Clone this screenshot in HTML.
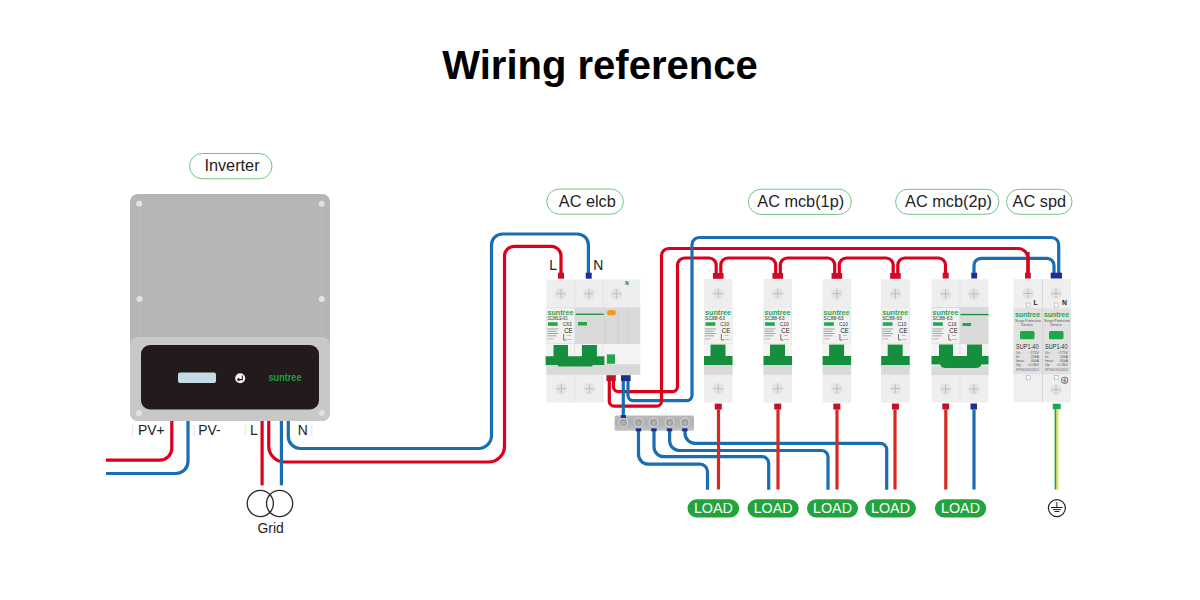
<!DOCTYPE html><html><head><meta charset="utf-8"><style>html,body{margin:0;padding:0;background:#fff;}svg{display:block;font-family:"Liberation Sans",sans-serif;}</style></head><body>
<svg width="1200" height="600" viewBox="0 0 1200 600">
<rect width="1200" height="600" fill="#fff"/>
<text x="600" y="79" font-size="40" font-weight="bold" fill="#000" text-anchor="middle">Wiring reference</text>
<rect x="189.5" y="153.5" width="82.5" height="25.3" rx="12.65" fill="#fff" stroke="#72c486" stroke-width="1"/>
<text x="232" y="171.1" font-size="16.3" fill="#1e1e1e" text-anchor="middle">Inverter</text>
<rect x="546.8" y="189" width="76.6" height="25.2" rx="12.6" fill="#fff" stroke="#72c486" stroke-width="1"/>
<text x="587.3" y="206.6" font-size="16.3" fill="#1e1e1e" text-anchor="middle">AC elcb</text>
<rect x="748.4" y="189.2" width="103" height="25.2" rx="12.6" fill="#fff" stroke="#72c486" stroke-width="1"/>
<text x="800.7" y="206.79999999999998" font-size="16.3" fill="#1e1e1e" text-anchor="middle">AC mcb(1p)</text>
<rect x="895.6" y="189.3" width="103.3" height="25" rx="12.5" fill="#fff" stroke="#72c486" stroke-width="1"/>
<text x="948.5" y="206.9" font-size="16.3" fill="#1e1e1e" text-anchor="middle">AC mcb(2p)</text>
<rect x="1006.5" y="189.3" width="65.5" height="25" rx="12.5" fill="#fff" stroke="#72c486" stroke-width="1"/>
<text x="1039.3" y="206.9" font-size="16.3" fill="#1e1e1e" text-anchor="middle">AC spd</text>
<rect x="130" y="194" width="200" height="227" rx="8" fill="#b5b6b6"/>
<rect x="138.5" y="208" width="1" height="128" fill="#bcbdbd"/>
<rect x="321.5" y="208" width="1" height="128" fill="#bcbdbd"/>
<rect x="130" y="337" width="200" height="84" rx="8" fill="#c8c8c8"/>
<rect x="141" y="345" width="178" height="64.5" rx="9" fill="#231a1b"/>
<rect x="178" y="372.5" width="38" height="10.5" rx="2" fill="#c5dbe6"/>
<circle cx="240.2" cy="378.3" r="5" fill="#fafafa"/>
<path d="M242.3,375.6V379.6H237.8M239.3,378.1L237.6,379.6L239.3,381.1" stroke="#231a1b" stroke-width="1.1" fill="none"/>
<text x="268.5" y="381" font-size="10.5" font-weight="bold" fill="#1c9c4a" textLength="33" lengthAdjust="spacingAndGlyphs">suntree</text>
<circle cx="139.2" cy="203.8" r="3" fill="#e3e3e3"/>
<circle cx="321.7" cy="203.8" r="3" fill="#e3e3e3"/>
<circle cx="139.5" cy="299" r="3" fill="#e3e3e3"/>
<circle cx="321.7" cy="299" r="3" fill="#e3e3e3"/>
<circle cx="139" cy="413" r="3" fill="#e3e3e3"/>
<circle cx="321.9" cy="413" r="3" fill="#e3e3e3"/>
<rect x="131.9" y="425" width="1" height="11" fill="#e4e4e4"/>
<rect x="193.6" y="425" width="1" height="11" fill="#e4e4e4"/>
<rect x="244.8" y="425" width="1" height="11" fill="#e4e4e4"/>
<rect x="311.3" y="425" width="1" height="11" fill="#e4e4e4"/>
<text x="138" y="435" font-size="13.9" fill="#222">PV+</text>
<text x="198.3" y="435" font-size="13.9" fill="#222">PV-</text>
<text x="250" y="435" font-size="13.9" fill="#222">L</text>
<text x="297.8" y="435" font-size="13.9" fill="#222">N</text>
<path d="M171.8,421V448.2A12,12 0 0 1 159.8,460.2H106" stroke="#db001b" stroke-width="3.2" fill="none"/>
<path d="M188,421V461.5A12,12 0 0 1 176,473.5H106" stroke="#1b6db2" stroke-width="3.2" fill="none"/>
<path d="M268.75,421V446A16,16 0 0 0 284.75,462H488.5A16,16 0 0 0 504.5,446V256.3A10,10 0 0 1 514.5,246.3H551A10,10 0 0 1 561,256.3V273" stroke="#db001b" stroke-width="3.2" fill="none"/>
<path d="M262.1,421V485.3" stroke="#db001b" stroke-width="3.2" fill="none"/>
<path d="M281.4,421V485.3" stroke="#1b6db2" stroke-width="3.2" fill="none"/>
<path d="M288.3,421V436.5A12,12 0 0 0 300.3,448.5H478.5A13,13 0 0 0 491.5,435.5V245A11,11 0 0 1 502.5,234H577.4A11,11 0 0 1 588.4,245V273" stroke="#1b6db2" stroke-width="3.2" fill="none"/>
<circle cx="260.3" cy="503.5" r="13.1" fill="none" stroke="#2a2a2a" stroke-width="1.3"/>
<circle cx="279.6" cy="503.5" r="13.1" fill="none" stroke="#2a2a2a" stroke-width="1.3"/>
<text x="270.6" y="532.5" font-size="13.9" fill="#222" text-anchor="middle">Grid</text>
<rect x="546.4" y="279.4" width="93.8" height="95.4" fill="#eeeeee"/>
<rect x="546.4" y="307.5" width="93.8" height="36.5" fill="#d9d9d9"/>
<rect x="546.4" y="344" width="93.8" height="20.3" fill="#f3f3f3"/>
<rect x="546.4" y="364.3" width="93.8" height="10.5" fill="#d8d8d8"/>
<rect x="546.4" y="374.8" width="56.6" height="27.7" fill="#eeeeee"/>
<rect x="574.0" y="279.4" width="0.8" height="123" fill="#e2e2e2"/>
<rect x="602.6" y="279.4" width="0.8" height="123" fill="#e2e2e2"/>
<rect x="604.2" y="307.5" width="0.8" height="36.5" fill="#cfcfcf"/>
<rect x="618.2" y="307.5" width="0.8" height="36.5" fill="#cfcfcf"/>
<rect x="627.0" y="307.5" width="0.8" height="36.5" fill="#cfcfcf"/>
<rect x="546.9" y="308" width="27.5" height="35.5" fill="#f1f1f1"/>
<text x="547.4" y="315.3" font-size="7.6" font-weight="bold" fill="#1fa84a" textLength="26" lengthAdjust="spacingAndGlyphs">suntree</text>
<text x="547.4" y="320.3" font-size="4.8" fill="#3a3a3a" textLength="20" lengthAdjust="spacingAndGlyphs">SC88LE-63</text>
<rect x="547.9" y="322.3" width="9.8" height="3.5" fill="#1fa84a"/>
<text x="562.6999999999999" y="326.3" font-size="5.2" fill="#333" textLength="9" lengthAdjust="spacingAndGlyphs">C63</text>
<text x="564.1999999999999" y="332.6" font-size="6.4" fill="#222" textLength="8.5" lengthAdjust="spacingAndGlyphs">CE</text>
<rect x="547.4" y="328.5" width="11" height="0.9" fill="#9a9a9a"/>
<rect x="547.4" y="330.8" width="9" height="0.9" fill="#9a9a9a"/>
<rect x="547.4" y="333.1" width="11" height="0.9" fill="#9a9a9a"/>
<rect x="547.4" y="335.4" width="9" height="0.9" fill="#9a9a9a"/>
<rect x="547.4" y="338.5" width="6" height="0.8" fill="#aaa"/>
<path d="M563.6999999999999,334V340H566.4" stroke="#555" stroke-width="0.8" fill="none"/>
<rect x="566.9" y="335" width="4" height="0.7" fill="#aaa"/><rect x="566.9" y="339" width="5" height="0.7" fill="#aaa"/>
<rect x="575.6" y="313.6" width="28" height="1.3" fill="#158f3d"/>
<rect x="578" y="322" width="9" height="3.5" fill="#1fa84a"/>
<rect x="607" y="310" width="8.8" height="5.3" rx="2.6" fill="#f39a1d"/>
<circle cx="561" cy="293.7" r="5.2" fill="#e4e4e4" stroke="#dadada" stroke-width="0.6"/>
<path d="M556.5999999999999,293.7H565.4000000000001M561,289.3V298.09999999999997" stroke="#bdbdbd" stroke-width="1"/>
<circle cx="589" cy="293.7" r="5.2" fill="#e4e4e4" stroke="#dadada" stroke-width="0.6"/>
<path d="M584.5999999999999,293.7H593.4000000000001M589,289.3V298.09999999999997" stroke="#bdbdbd" stroke-width="1"/>
<circle cx="616.4" cy="293.7" r="5.2" fill="#e4e4e4" stroke="#dadada" stroke-width="0.6"/>
<path d="M611.9999999999999,293.7H620.8000000000001M616.4,289.3V298.09999999999997" stroke="#bdbdbd" stroke-width="1"/>
<circle cx="561.25" cy="388.75" r="5.2" fill="#e4e4e4" stroke="#dadada" stroke-width="0.6"/>
<path d="M556.8499999999999,388.75H565.6500000000001M561.25,384.35V393.15" stroke="#bdbdbd" stroke-width="1"/>
<circle cx="589.4" cy="388.75" r="5.2" fill="#e4e4e4" stroke="#dadada" stroke-width="0.6"/>
<path d="M584.9999999999999,388.75H593.8000000000001M589.4,384.35V393.15" stroke="#bdbdbd" stroke-width="1"/>
<text x="625.3" y="285.2" font-size="4.6" font-weight="bold" fill="#444">N</text>
<path d="M545.6,356.2H553.5V345H568V356.2H581.9V345H596.9V356.2H604.4V365H593L591.5,366.6H559L557.5,365H545.6Z" fill="#158f3d"/>
<rect x="606.9" y="354.4" width="8.1" height="9.4" fill="#1fa84a"/>
<rect x="558" y="272.7" width="6" height="6" fill="#c5102a"/>
<rect x="585.7" y="272.7" width="6" height="6" fill="#1c2f8e"/>
<text x="549.3" y="270.4" font-size="13.9" fill="#222">L</text>
<text x="593.3" y="270.4" font-size="13.9" fill="#222">N</text>
<rect x="704" y="279" width="28.5" height="123.7" fill="#eeeeee"/>
<rect x="704" y="307.7" width="28.5" height="36.5" fill="#e0e0e0"/>
<rect x="704.5" y="308" width="27.5" height="35.5" fill="#f1f1f1"/>
<text x="705" y="315.3" font-size="7.6" font-weight="bold" fill="#1fa84a" textLength="26" lengthAdjust="spacingAndGlyphs">suntree</text>
<text x="705" y="320.3" font-size="4.8" fill="#3a3a3a" textLength="20" lengthAdjust="spacingAndGlyphs">SC88-63</text>
<rect x="705.5" y="322.3" width="9.8" height="3.5" fill="#1fa84a"/>
<text x="720.3" y="326.3" font-size="5.2" fill="#333" textLength="9" lengthAdjust="spacingAndGlyphs">C10</text>
<text x="721.8" y="332.6" font-size="6.4" fill="#222" textLength="8.5" lengthAdjust="spacingAndGlyphs">CE</text>
<rect x="705" y="328.5" width="11" height="0.9" fill="#9a9a9a"/>
<rect x="705" y="330.8" width="9" height="0.9" fill="#9a9a9a"/>
<rect x="705" y="333.1" width="11" height="0.9" fill="#9a9a9a"/>
<rect x="705" y="335.4" width="9" height="0.9" fill="#9a9a9a"/>
<rect x="705" y="338.5" width="6" height="0.8" fill="#aaa"/>
<path d="M721.3,334V340H724" stroke="#555" stroke-width="0.8" fill="none"/>
<rect x="724.5" y="335" width="4" height="0.7" fill="#aaa"/><rect x="724.5" y="339" width="5" height="0.7" fill="#aaa"/>
<rect x="704" y="344.2" width="28.5" height="12" fill="#f4f4f4"/>
<rect x="704" y="365" width="28.5" height="9.7" fill="#d9d9d9"/>
<rect x="710.5" y="344.6" width="15" height="12" fill="#158f3d"/>
<rect x="704" y="356" width="28.5" height="9" fill="#158f3d"/>
<circle cx="718.25" cy="293.7" r="5.2" fill="#e4e4e4" stroke="#dadada" stroke-width="0.6"/>
<path d="M713.8499999999999,293.7H722.6500000000001M718.25,289.3V298.09999999999997" stroke="#bdbdbd" stroke-width="1"/>
<circle cx="718.25" cy="388.7" r="5.2" fill="#e4e4e4" stroke="#dadada" stroke-width="0.6"/>
<path d="M713.8499999999999,388.7H722.6500000000001M718.25,384.3V393.09999999999997" stroke="#bdbdbd" stroke-width="1"/>
<rect x="712.95" y="273" width="10.6" height="5.8" fill="#c5102a"/>
<rect x="714.75" y="403.6" width="7" height="6" fill="#c5102a"/>
<rect x="763.5" y="279" width="28.5" height="123.7" fill="#eeeeee"/>
<rect x="763.5" y="307.7" width="28.5" height="36.5" fill="#e0e0e0"/>
<rect x="764.0" y="308" width="27.5" height="35.5" fill="#f1f1f1"/>
<text x="764.5" y="315.3" font-size="7.6" font-weight="bold" fill="#1fa84a" textLength="26" lengthAdjust="spacingAndGlyphs">suntree</text>
<text x="764.5" y="320.3" font-size="4.8" fill="#3a3a3a" textLength="20" lengthAdjust="spacingAndGlyphs">SC88-63</text>
<rect x="765.0" y="322.3" width="9.8" height="3.5" fill="#1fa84a"/>
<text x="779.8" y="326.3" font-size="5.2" fill="#333" textLength="9" lengthAdjust="spacingAndGlyphs">C10</text>
<text x="781.3" y="332.6" font-size="6.4" fill="#222" textLength="8.5" lengthAdjust="spacingAndGlyphs">CE</text>
<rect x="764.5" y="328.5" width="11" height="0.9" fill="#9a9a9a"/>
<rect x="764.5" y="330.8" width="9" height="0.9" fill="#9a9a9a"/>
<rect x="764.5" y="333.1" width="11" height="0.9" fill="#9a9a9a"/>
<rect x="764.5" y="335.4" width="9" height="0.9" fill="#9a9a9a"/>
<rect x="764.5" y="338.5" width="6" height="0.8" fill="#aaa"/>
<path d="M780.8,334V340H783.5" stroke="#555" stroke-width="0.8" fill="none"/>
<rect x="784.0" y="335" width="4" height="0.7" fill="#aaa"/><rect x="784.0" y="339" width="5" height="0.7" fill="#aaa"/>
<rect x="763.5" y="344.2" width="28.5" height="12" fill="#f4f4f4"/>
<rect x="763.5" y="365" width="28.5" height="9.7" fill="#d9d9d9"/>
<rect x="770.0" y="344.6" width="15" height="12" fill="#158f3d"/>
<rect x="763.5" y="356" width="28.5" height="9" fill="#158f3d"/>
<circle cx="777.75" cy="293.7" r="5.2" fill="#e4e4e4" stroke="#dadada" stroke-width="0.6"/>
<path d="M773.3499999999999,293.7H782.1500000000001M777.75,289.3V298.09999999999997" stroke="#bdbdbd" stroke-width="1"/>
<circle cx="777.75" cy="388.7" r="5.2" fill="#e4e4e4" stroke="#dadada" stroke-width="0.6"/>
<path d="M773.3499999999999,388.7H782.1500000000001M777.75,384.3V393.09999999999997" stroke="#bdbdbd" stroke-width="1"/>
<rect x="772.45" y="273" width="10.6" height="5.8" fill="#c5102a"/>
<rect x="774.25" y="403.6" width="7" height="6" fill="#c5102a"/>
<rect x="822.6" y="279" width="28.5" height="123.7" fill="#eeeeee"/>
<rect x="822.6" y="307.7" width="28.5" height="36.5" fill="#e0e0e0"/>
<rect x="823.1" y="308" width="27.5" height="35.5" fill="#f1f1f1"/>
<text x="823.6" y="315.3" font-size="7.6" font-weight="bold" fill="#1fa84a" textLength="26" lengthAdjust="spacingAndGlyphs">suntree</text>
<text x="823.6" y="320.3" font-size="4.8" fill="#3a3a3a" textLength="20" lengthAdjust="spacingAndGlyphs">SC88-63</text>
<rect x="824.1" y="322.3" width="9.8" height="3.5" fill="#1fa84a"/>
<text x="838.9" y="326.3" font-size="5.2" fill="#333" textLength="9" lengthAdjust="spacingAndGlyphs">C10</text>
<text x="840.4" y="332.6" font-size="6.4" fill="#222" textLength="8.5" lengthAdjust="spacingAndGlyphs">CE</text>
<rect x="823.6" y="328.5" width="11" height="0.9" fill="#9a9a9a"/>
<rect x="823.6" y="330.8" width="9" height="0.9" fill="#9a9a9a"/>
<rect x="823.6" y="333.1" width="11" height="0.9" fill="#9a9a9a"/>
<rect x="823.6" y="335.4" width="9" height="0.9" fill="#9a9a9a"/>
<rect x="823.6" y="338.5" width="6" height="0.8" fill="#aaa"/>
<path d="M839.9,334V340H842.6" stroke="#555" stroke-width="0.8" fill="none"/>
<rect x="843.1" y="335" width="4" height="0.7" fill="#aaa"/><rect x="843.1" y="339" width="5" height="0.7" fill="#aaa"/>
<rect x="822.6" y="344.2" width="28.5" height="12" fill="#f4f4f4"/>
<rect x="822.6" y="365" width="28.5" height="9.7" fill="#d9d9d9"/>
<rect x="829.1" y="344.6" width="15" height="12" fill="#158f3d"/>
<rect x="822.6" y="356" width="28.5" height="9" fill="#158f3d"/>
<circle cx="836.85" cy="293.7" r="5.2" fill="#e4e4e4" stroke="#dadada" stroke-width="0.6"/>
<path d="M832.4499999999999,293.7H841.2500000000001M836.85,289.3V298.09999999999997" stroke="#bdbdbd" stroke-width="1"/>
<circle cx="836.85" cy="388.7" r="5.2" fill="#e4e4e4" stroke="#dadada" stroke-width="0.6"/>
<path d="M832.4499999999999,388.7H841.2500000000001M836.85,384.3V393.09999999999997" stroke="#bdbdbd" stroke-width="1"/>
<rect x="831.5500000000001" y="273" width="10.6" height="5.8" fill="#c5102a"/>
<rect x="833.35" y="403.6" width="7" height="6" fill="#c5102a"/>
<rect x="881.2" y="279" width="28.5" height="123.7" fill="#eeeeee"/>
<rect x="881.2" y="307.7" width="28.5" height="36.5" fill="#e0e0e0"/>
<rect x="881.7" y="308" width="27.5" height="35.5" fill="#f1f1f1"/>
<text x="882.2" y="315.3" font-size="7.6" font-weight="bold" fill="#1fa84a" textLength="26" lengthAdjust="spacingAndGlyphs">suntree</text>
<text x="882.2" y="320.3" font-size="4.8" fill="#3a3a3a" textLength="20" lengthAdjust="spacingAndGlyphs">SC88-63</text>
<rect x="882.7" y="322.3" width="9.8" height="3.5" fill="#1fa84a"/>
<text x="897.5" y="326.3" font-size="5.2" fill="#333" textLength="9" lengthAdjust="spacingAndGlyphs">C10</text>
<text x="899.0" y="332.6" font-size="6.4" fill="#222" textLength="8.5" lengthAdjust="spacingAndGlyphs">CE</text>
<rect x="882.2" y="328.5" width="11" height="0.9" fill="#9a9a9a"/>
<rect x="882.2" y="330.8" width="9" height="0.9" fill="#9a9a9a"/>
<rect x="882.2" y="333.1" width="11" height="0.9" fill="#9a9a9a"/>
<rect x="882.2" y="335.4" width="9" height="0.9" fill="#9a9a9a"/>
<rect x="882.2" y="338.5" width="6" height="0.8" fill="#aaa"/>
<path d="M898.5,334V340H901.2" stroke="#555" stroke-width="0.8" fill="none"/>
<rect x="901.7" y="335" width="4" height="0.7" fill="#aaa"/><rect x="901.7" y="339" width="5" height="0.7" fill="#aaa"/>
<rect x="881.2" y="344.2" width="28.5" height="12" fill="#f4f4f4"/>
<rect x="881.2" y="365" width="28.5" height="9.7" fill="#d9d9d9"/>
<rect x="887.7" y="344.6" width="15" height="12" fill="#158f3d"/>
<rect x="881.2" y="356" width="28.5" height="9" fill="#158f3d"/>
<circle cx="895.45" cy="293.7" r="5.2" fill="#e4e4e4" stroke="#dadada" stroke-width="0.6"/>
<path d="M891.05,293.7H899.8500000000001M895.45,289.3V298.09999999999997" stroke="#bdbdbd" stroke-width="1"/>
<circle cx="895.45" cy="388.7" r="5.2" fill="#e4e4e4" stroke="#dadada" stroke-width="0.6"/>
<path d="M891.05,388.7H899.8500000000001M895.45,384.3V393.09999999999997" stroke="#bdbdbd" stroke-width="1"/>
<rect x="890.1500000000001" y="273" width="10.6" height="5.8" fill="#c5102a"/>
<rect x="891.95" y="403.6" width="7" height="6" fill="#c5102a"/>
<rect x="931.5" y="279.3" width="57" height="123.2" fill="#eeeeee"/>
<rect x="931.5" y="307" width="57" height="37.3" fill="#d9d9d9"/>
<rect x="932.0" y="308" width="27.5" height="35.5" fill="#f1f1f1"/>
<text x="932.5" y="315.3" font-size="7.6" font-weight="bold" fill="#1fa84a" textLength="26" lengthAdjust="spacingAndGlyphs">suntree</text>
<text x="932.5" y="320.3" font-size="4.8" fill="#3a3a3a" textLength="20" lengthAdjust="spacingAndGlyphs">SC88-63</text>
<rect x="933.0" y="322.3" width="9.8" height="3.5" fill="#1fa84a"/>
<text x="947.8" y="326.3" font-size="5.2" fill="#333" textLength="9" lengthAdjust="spacingAndGlyphs">C16</text>
<text x="949.3" y="332.6" font-size="6.4" fill="#222" textLength="8.5" lengthAdjust="spacingAndGlyphs">CE</text>
<rect x="932.5" y="328.5" width="11" height="0.9" fill="#9a9a9a"/>
<rect x="932.5" y="330.8" width="9" height="0.9" fill="#9a9a9a"/>
<rect x="932.5" y="333.1" width="11" height="0.9" fill="#9a9a9a"/>
<rect x="932.5" y="335.4" width="9" height="0.9" fill="#9a9a9a"/>
<rect x="932.5" y="338.5" width="6" height="0.8" fill="#aaa"/>
<path d="M948.8,334V340H951.5" stroke="#555" stroke-width="0.8" fill="none"/>
<rect x="952.0" y="335" width="4" height="0.7" fill="#aaa"/><rect x="952.0" y="339" width="5" height="0.7" fill="#aaa"/>
<rect x="960" y="313.9" width="28.5" height="1.3" fill="#158f3d"/>
<rect x="962.5" y="323" width="8.5" height="3" fill="#1fa84a"/>
<rect x="931.5" y="344.3" width="57" height="21" fill="#f4f4f4"/>
<rect x="931.5" y="366" width="57" height="9" fill="#d9d9d9"/>
<rect x="959.6" y="279.3" width="0.8" height="123" fill="#dedede"/>
<path d="M931.5,356H939V344.5H953V356H967V344.5H982V356H988.5V364.5H981.5Q980,368 976,368H945.5Q941.5,368 940,364.5H931.5Z" fill="#158f3d"/>
<circle cx="945.5" cy="294" r="5.2" fill="#e4e4e4" stroke="#dadada" stroke-width="0.6"/>
<path d="M941.0999999999999,294H949.9000000000001M945.5,289.6V298.4" stroke="#bdbdbd" stroke-width="1"/>
<circle cx="974" cy="294" r="5.2" fill="#e4e4e4" stroke="#dadada" stroke-width="0.6"/>
<path d="M969.5999999999999,294H978.4000000000001M974,289.6V298.4" stroke="#bdbdbd" stroke-width="1"/>
<circle cx="945.5" cy="389" r="5.2" fill="#e4e4e4" stroke="#dadada" stroke-width="0.6"/>
<path d="M941.0999999999999,389H949.9000000000001M945.5,384.6V393.4" stroke="#bdbdbd" stroke-width="1"/>
<circle cx="974" cy="389" r="5.2" fill="#e4e4e4" stroke="#dadada" stroke-width="0.6"/>
<path d="M969.5999999999999,389H978.4000000000001M974,384.6V393.4" stroke="#bdbdbd" stroke-width="1"/>
<rect x="942.7" y="272.7" width="6" height="5.8" fill="#c5102a"/>
<rect x="971.3" y="272.7" width="5.8" height="5.8" fill="#1c2f8e"/>
<rect x="942.3" y="403.5" width="6.8" height="6" fill="#c5102a"/>
<rect x="970.5" y="403.5" width="6.5" height="6" fill="#1c2f8e"/>
<rect x="1013.5" y="279" width="57.5" height="123.3" fill="#efefef"/>
<rect x="1013.5" y="308" width="57.5" height="66.3" fill="#e1e1e1"/>
<rect x="1042.1" y="279" width="0.8" height="123.3" fill="#d4d4d4"/>
<circle cx="1028" cy="293.5" r="5.2" fill="#e4e4e4" stroke="#dadada" stroke-width="0.6"/>
<path d="M1023.5999999999999,293.5H1032.4M1028,289.1V297.9" stroke="#bdbdbd" stroke-width="1"/>
<circle cx="1056" cy="293.5" r="5.2" fill="#e4e4e4" stroke="#dadada" stroke-width="0.6"/>
<path d="M1051.6,293.5H1060.4M1056,289.1V297.9" stroke="#bdbdbd" stroke-width="1"/>
<circle cx="1056" cy="389.7" r="5.2" fill="#e4e4e4" stroke="#dadada" stroke-width="0.6"/>
<path d="M1051.6,389.7H1060.4M1056,385.3V394.09999999999997" stroke="#bdbdbd" stroke-width="1"/>
<text x="1033.6" y="305" font-size="6.8" font-weight="bold" fill="#222">L</text>
<text x="1062" y="305" font-size="6.8" font-weight="bold" fill="#222">N</text>
<rect x="1026.5" y="303" width="3.6" height="4" fill="#fff" stroke="#aaa" stroke-width="0.6"/>
<rect x="1026.5" y="375.7" width="3.6" height="3.8" fill="#fff" stroke="#aaa" stroke-width="0.6"/>
<rect x="1054.5" y="303" width="3.6" height="4" fill="#fff" stroke="#aaa" stroke-width="0.6"/>
<rect x="1054.5" y="375.7" width="3.6" height="3.8" fill="#fff" stroke="#aaa" stroke-width="0.6"/>
<text x="1015.0" y="316.6" font-size="7.6" font-weight="bold" fill="#1fa84a" textLength="25" lengthAdjust="spacingAndGlyphs">suntree</text>
<text x="1015.0" y="322.2" font-size="3.8" fill="#555" textLength="26" lengthAdjust="spacingAndGlyphs">Surge Protective</text>
<text x="1021.3" y="326.4" font-size="3.8" fill="#555">Device</text>
<rect x="1020.0" y="331" width="14.5" height="8.2" rx="1.5" fill="#1fa84a"/>
<text x="1016.0" y="349.2" font-size="6.6" fill="#333" textLength="22.5" lengthAdjust="spacingAndGlyphs">SUP1-40</text>
<text x="1016.0" y="353.8" font-size="3.6" fill="#555">Uc:</text>
<text x="1039.0" y="353.8" font-size="3.6" fill="#555" text-anchor="end">~275V</text>
<text x="1016.0" y="357.8" font-size="3.6" fill="#555">In:</text>
<text x="1039.0" y="357.8" font-size="3.6" fill="#555" text-anchor="end">20kA</text>
<text x="1016.0" y="361.8" font-size="3.6" fill="#555">Imax:</text>
<text x="1039.0" y="361.8" font-size="3.6" fill="#555" text-anchor="end">40kA</text>
<text x="1016.0" y="365.8" font-size="3.6" fill="#555">Up:</text>
<text x="1039.0" y="365.8" font-size="3.6" fill="#555" text-anchor="end"><1.8kV</text>
<text x="1016.0" y="370.6" font-size="3.4" fill="#666" textLength="23" lengthAdjust="spacingAndGlyphs">SP1N63 ED04520</text>
<text x="1044.0" y="316.6" font-size="7.6" font-weight="bold" fill="#1fa84a" textLength="25" lengthAdjust="spacingAndGlyphs">suntree</text>
<text x="1044.0" y="322.2" font-size="3.8" fill="#555" textLength="26" lengthAdjust="spacingAndGlyphs">Surge Protective</text>
<text x="1050.3" y="326.4" font-size="3.8" fill="#555">Device</text>
<rect x="1049.0" y="331" width="14.5" height="8.2" rx="1.5" fill="#1fa84a"/>
<text x="1045.0" y="349.2" font-size="6.6" fill="#333" textLength="22.5" lengthAdjust="spacingAndGlyphs">SUP1-40</text>
<text x="1045.0" y="353.8" font-size="3.6" fill="#555">Uc:</text>
<text x="1068.0" y="353.8" font-size="3.6" fill="#555" text-anchor="end">~275V</text>
<text x="1045.0" y="357.8" font-size="3.6" fill="#555">In:</text>
<text x="1068.0" y="357.8" font-size="3.6" fill="#555" text-anchor="end">20kA</text>
<text x="1045.0" y="361.8" font-size="3.6" fill="#555">Imax:</text>
<text x="1068.0" y="361.8" font-size="3.6" fill="#555" text-anchor="end">40kA</text>
<text x="1045.0" y="365.8" font-size="3.6" fill="#555">Up:</text>
<text x="1068.0" y="365.8" font-size="3.6" fill="#555" text-anchor="end"><1.8kV</text>
<text x="1045.0" y="370.6" font-size="3.4" fill="#666" textLength="23" lengthAdjust="spacingAndGlyphs">SP1N63 ED04520</text>
<circle cx="1064.7" cy="380.3" r="3.2" fill="none" stroke="#333" stroke-width="0.7"/>
<path d="M1064.7,377.9V380.3M1062.9,380.3H1066.5M1063.5,381.3H1065.9M1064.1,382.2H1065.3" stroke="#333" stroke-width="0.5" fill="none"/>
<rect x="1052.7" y="403.7" width="8" height="5.5" fill="#1ea55a"/>
<path d="M613.4,381V386.6A5,5 0 0 0 618.4,391.6H672.5A5,5 0 0 0 677.5,386.6V265A7,7 0 0 1 684.5,258H709.2A7,7 0 0 1 716.2,265V273M720.8,273V265A7,7 0 0 1 727.8,258H768.7A7,7 0 0 1 775.7,265V273M780.3,273V265A7,7 0 0 1 787.3,258H827.7A7,7 0 0 1 834.7,265V273M839.3,273V265A7,7 0 0 1 846.3,258H886.2A7,7 0 0 1 893.2,265V273M897.8,273V265A7,7 0 0 1 904.8,258H938.5A7,7 0 0 1 945.5,265V273" stroke="#db001b" stroke-width="3.2" fill="none"/>
<path d="M609.3,381V401.2A5,5 0 0 0 614.3,406.2H656.5A5,5 0 0 0 661.5,401.2V255.5A7,7 0 0 1 668.5,248.5H1018A10,10 0 0 1 1028,258.5V273" stroke="#db001b" stroke-width="3.2" fill="none"/>
<path d="M974,273V265.4A7,7 0 0 1 981,258.4H1047A7,7 0 0 1 1054,265.4V273" stroke="#1b6db2" stroke-width="3.2" fill="none"/>
<path d="M1028,252V273" stroke="#db001b" stroke-width="3.2" fill="none"/>
<path d="M628,381V395.6A5,5 0 0 0 633,400.6H687A5,5 0 0 0 692,395.6V244.5A7,7 0 0 1 699,237.5H1051.7A7,7 0 0 1 1058.7,244.5V273" stroke="#1b6db2" stroke-width="3.2" fill="none"/>
<path d="M661.5,395V401.3" stroke="#db001b" stroke-width="3.2" fill="none"/>
<path d="M623.3,381V416" stroke="#1b6db2" stroke-width="3.2" fill="none"/>
<rect x="1050.7" y="272.7" width="11.3" height="5.8" fill="#1c2f8e"/>
<rect x="1025" y="272.7" width="5.8" height="5.8" fill="#c5102a"/>
<rect x="606.4" y="375.2" width="9.4" height="5.9" fill="#c5102a"/>
<rect x="621" y="375.2" width="9.6" height="5.9" fill="#1c2f8e"/>
<defs><linearGradient id="bar" x1="0" y1="0" x2="0" y2="1"><stop offset="0" stop-color="#b9b9b9"/><stop offset="0.5" stop-color="#b0b0b0"/><stop offset="1" stop-color="#c4c4c4"/></linearGradient></defs>
<rect x="614.6" y="415.5" width="79.4" height="15.2" rx="1.5" fill="url(#bar)"/>
<circle cx="623.2" cy="422.5" r="5" fill="#cdcdcd"/>
<circle cx="623.2" cy="422.5" r="3.6" fill="#9d9d9d"/>
<circle cx="623.2" cy="422.9" r="2" fill="#b4b4b4"/>
<circle cx="638.5" cy="422.5" r="5" fill="#cdcdcd"/>
<circle cx="638.5" cy="422.5" r="3.6" fill="#9d9d9d"/>
<circle cx="638.5" cy="422.9" r="2" fill="#b4b4b4"/>
<circle cx="653.6" cy="422.5" r="5" fill="#cdcdcd"/>
<circle cx="653.6" cy="422.5" r="3.6" fill="#9d9d9d"/>
<circle cx="653.6" cy="422.9" r="2" fill="#b4b4b4"/>
<circle cx="669.6" cy="422.5" r="5" fill="#cdcdcd"/>
<circle cx="669.6" cy="422.5" r="3.6" fill="#9d9d9d"/>
<circle cx="669.6" cy="422.9" r="2" fill="#b4b4b4"/>
<circle cx="685" cy="422.5" r="5" fill="#cdcdcd"/>
<circle cx="685" cy="422.5" r="3.6" fill="#9d9d9d"/>
<circle cx="685" cy="422.9" r="2" fill="#b4b4b4"/>
<rect x="620.8" y="415" width="5.2" height="3" fill="#1c2f8e"/>
<path d="M638.5,431V454.2A10,10 0 0 0 648.5,464.2H700A7.5,7.5 0 0 1 707.5,471.7V489.8" stroke="#1b6db2" stroke-width="3.2" fill="none"/>
<path d="M654,431V446.7A10,10 0 0 0 664,456.7H762.2A6.5,6.5 0 0 1 768.7,463.2V489.8" stroke="#1b6db2" stroke-width="3.2" fill="none"/>
<path d="M669.6,431V440.5A10,10 0 0 0 679.6,450.5H821.5A6.5,6.5 0 0 1 828,457V489.8" stroke="#1b6db2" stroke-width="3.2" fill="none"/>
<path d="M685,431V433.3A10,10 0 0 0 695,443.3H880.2A6.5,6.5 0 0 1 886.7,449.8V489.8" stroke="#1b6db2" stroke-width="3.2" fill="none"/>
<rect x="635.8" y="428.3" width="5.4" height="3" fill="#1c2f8e"/>
<rect x="651.1999999999999" y="428.3" width="5.4" height="3" fill="#1c2f8e"/>
<rect x="666.8" y="428.3" width="5.4" height="3" fill="#1c2f8e"/>
<rect x="682.0999999999999" y="428.3" width="5.4" height="3" fill="#1c2f8e"/>
<path d="M718.5,409.5V489.5" stroke="#d8281f" stroke-width="3.2" fill="none"/>
<path d="M778,409.5V489.5" stroke="#d8281f" stroke-width="3.2" fill="none"/>
<path d="M837,409.5V489.5" stroke="#d8281f" stroke-width="3.2" fill="none"/>
<path d="M895,409.5V489.5" stroke="#d8281f" stroke-width="3.2" fill="none"/>
<path d="M945.8,409.5V489.5" stroke="#d8281f" stroke-width="3.2" fill="none"/>
<path d="M974,409.5V489.5" stroke="#1b6db2" stroke-width="3.2" fill="none"/>
<rect x="1054.6" y="409" width="1.9" height="80.5" fill="#23a24b"/>
<rect x="1056.5" y="409" width="1.9" height="80.5" fill="#e8e03a"/>
<rect x="687.5" y="499.2" width="51.7" height="18.3" rx="9.15" fill="#22a33c"/>
<text x="713.4" y="513.1" font-size="14.3" fill="#fff" text-anchor="middle">LOAD</text>
<rect x="747.5" y="499.2" width="51.2" height="18.3" rx="9.15" fill="#22a33c"/>
<text x="773.1" y="513.1" font-size="14.3" fill="#fff" text-anchor="middle">LOAD</text>
<rect x="807" y="499.2" width="51.0" height="18.3" rx="9.15" fill="#22a33c"/>
<text x="832.5" y="513.1" font-size="14.3" fill="#fff" text-anchor="middle">LOAD</text>
<rect x="865.1" y="499.2" width="50.9" height="18.3" rx="9.15" fill="#22a33c"/>
<text x="890.5" y="513.1" font-size="14.3" fill="#fff" text-anchor="middle">LOAD</text>
<rect x="934.9" y="499.2" width="51.3" height="18.3" rx="9.15" fill="#22a33c"/>
<text x="960.5" y="513.1" font-size="14.3" fill="#fff" text-anchor="middle">LOAD</text>
<circle cx="1056.9" cy="508.1" r="8.5" fill="none" stroke="#222" stroke-width="1.2"/>
<path d="M1056.9,502V507.5M1051,507.5H1062.6M1053,509.6H1060.8M1054.5,511.5H1059.3" stroke="#222" stroke-width="1" fill="none"/>
</svg></body></html>
